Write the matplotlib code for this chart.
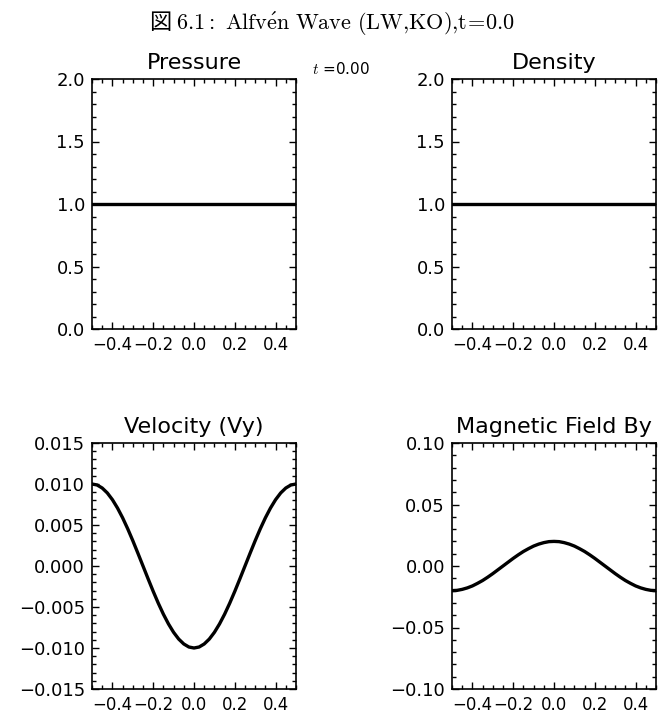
import matplotlib
matplotlib.use("Agg")
import matplotlib.pyplot as plt
from matplotlib.ticker import MultipleLocator, FixedLocator, FuncFormatter

plt.rcParams['mathtext.fontset'] = 'cm'
plt.rcParams['font.family'] = ['DejaVu Sans', 'Noto Sans CJK JP']

# ---- data ----
x_flat = [-0.5, 0.5]
pressure = [1.0, 1.0]
density = [1.0, 1.0]

x_wave = [-0.500, -0.475, -0.450, -0.425, -0.400, -0.375, -0.350, -0.325, -0.300, -0.275,
          -0.250, -0.225, -0.200, -0.175, -0.150, -0.125, -0.100, -0.075, -0.050, -0.025,
          0.000, 0.025, 0.050, 0.075, 0.100, 0.125, 0.150, 0.175, 0.200, 0.225,
          0.250, 0.275, 0.300, 0.325, 0.350, 0.375, 0.400, 0.425, 0.450, 0.475, 0.500]
vel_y = [0.0100, 0.00988, 0.00951, 0.00891, 0.00809, 0.00707, 0.00588, 0.00454, 0.00309, 0.00156,
         0.0000, -0.00156, -0.00309, -0.00454, -0.00588, -0.00707, -0.00809, -0.00891, -0.00951, -0.00988,
         -0.0100, -0.00988, -0.00951, -0.00891, -0.00809, -0.00707, -0.00588, -0.00454, -0.00309, -0.00156,
         0.0000, 0.00156, 0.00309, 0.00454, 0.00588, 0.00707, 0.00809, 0.00891, 0.00951, 0.00988, 0.0100]
mag_by = [-0.0200, -0.0198, -0.0190, -0.0178, -0.0162, -0.0141, -0.0118, -0.0091, -0.0062, -0.0031,
          0.0000, 0.0031, 0.0062, 0.0091, 0.0118, 0.0141, 0.0162, 0.0178, 0.0190, 0.0198,
          0.0200, 0.0198, 0.0190, 0.0178, 0.0162, 0.0141, 0.0118, 0.0091, 0.0062, 0.0031,
          0.0000, -0.0031, -0.0062, -0.0091, -0.0118, -0.0141, -0.0162, -0.0178, -0.0190, -0.0198, -0.0200]

titles = ["Pressure", "Density", "Velocity (Vy)", "Magnetic Field By"]
x_ticks = [-0.4, -0.2, 0.0, 0.2, 0.4]
x_ticklabels = ["\u22120.4", "\u22120.2", "0.0", "0.2", "0.4"]
y_ticks_p = [0.0, 0.5, 1.0, 1.5, 2.0]
y_ticks_v = [-0.015, -0.010, -0.005, 0.000, 0.005, 0.010, 0.015]
y_ticks_b = [-0.10, -0.05, 0.00, 0.05, 0.10]
time_label = "0.00"

W, H = 663, 721
fig = plt.figure(figsize=(W / 100, H / 100), dpi=100)

def ax_at(l, t, r, b):
    return fig.add_axes([l / W, 1 - b / H, (r - l) / W, (b - t) / H])

ax_p = ax_at(92, 79, 296, 329)
ax_d = ax_at(452, 79, 656, 329)
ax_v = ax_at(92, 443, 296, 689)
ax_b = ax_at(452, 443, 656, 689)

def style(ax, title, yticks, ymin, ymax, yminor, fmt):
    ax.set_xlim(-0.5, 0.5)
    ax.set_ylim(ymin, ymax)
    ax.xaxis.set_major_locator(FixedLocator(x_ticks))
    ax.set_xticklabels(x_ticklabels)
    ax.xaxis.set_minor_locator(MultipleLocator(0.05))
    ax.yaxis.set_major_locator(FixedLocator(yticks))
    ax.yaxis.set_major_formatter(FuncFormatter(lambda v, p: (fmt % v).replace('-', '\u2212')))
    ax.yaxis.set_minor_locator(MultipleLocator(yminor))
    ax.tick_params(which='both', direction='in', top=True, right=True, width=1.0)
    ax.tick_params(which='major', length=5)
    ax.tick_params(which='minor', length=3)
    ax.tick_params(axis='y', which='major', pad=5, labelsize=13)
    ax.tick_params(axis='x', which='major', pad=5, labelsize=11.9)
    for s in ax.spines.values():
        s.set_linewidth(1.2)
    ax.set_title(title, fontsize=16, pad=7)

ax_p.plot(x_flat, pressure, color='black', lw=2.4)
style(ax_p, titles[0], y_ticks_p, 0.0, 2.0, 0.1, "%.1f")
ax_d.plot(x_flat, density, color='black', lw=2.4)
style(ax_d, titles[1], y_ticks_p, 0.0, 2.0, 0.1, "%.1f")
ax_v.plot(x_wave, vel_y, color='black', lw=2.4)
style(ax_v, titles[2], y_ticks_v, -0.015, 0.015, 0.001, "%.3f")
ax_b.plot(x_wave, mag_by, color='black', lw=2.4)
style(ax_b, titles[3], y_ticks_b, -0.10, 0.10, 0.01, "%.2f")

fig.text(312 / W, 1 - 69 / H, r"$t$ =" + time_label, fontsize=11, ha='left', va='center')

fig.text(0.5, 1 - 23 / H,
         "\u56f3 " + r"$\mathrm{6.1{:}\ Alfv\acute{e}n\ Wave\ (LW{,}KO){,}t\!=\!0.0}$",
         fontsize=16, ha='center', va='center',
         family=['Noto Sans CJK JP', 'DejaVu Sans'])

fig.savefig("out.png", dpi=100)
